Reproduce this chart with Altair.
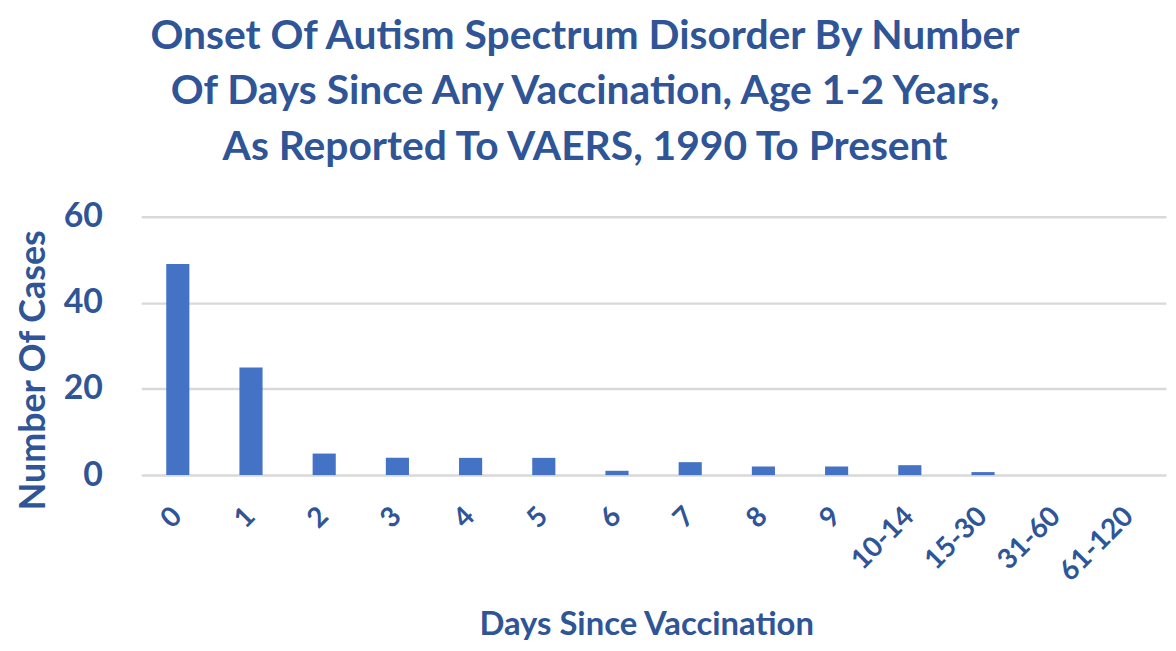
import altair as alt
import pandas as pd

days = ["0", "1", "2", "3", "4", "5", "6", "7", "8", "9", "10-14", "15-30", "31-60", "61-120"]
cases = [49, 25, 5, 4, 4, 4, 1, 3, 2, 2, 2.3, 0.7, 0, 0]

title_lines = [
    "Onset Of Autism Spectrum Disorder By Number",
    "Of Days Since Any Vaccination, Age 1-2 Years,",
    "As Reported To VAERS, 1990 To Present",
]

df = pd.DataFrame({"days": days, "cases": cases})

BLUE_TEXT = "#2F5597"
BAR = "#4472C4"
FONT = "Lato"

chart = alt.Chart(df).mark_bar(color=BAR).encode(
    x=alt.X(
        "days:N",
        sort=days,
        scale=alt.Scale(paddingInner=0.684, paddingOuter=0.342),
        axis=alt.Axis(
            title="Days Since Vaccination",
            labelAngle=-45,
            labelAlign="right",
            labelBaseline="middle",
            labelPadding=37,
            labelFontSize=28,
            labelFont=FONT,
            labelFontWeight="bold",
            labelColor=BLUE_TEXT,
            ticks=False,
            domain=False,
            titleFont=FONT,
            titleFontSize=33,
            titleFontWeight="bold",
            titleColor=BLUE_TEXT,
            titleX=508,
            titleY=160,
            titleAlign="center",
            titleBaseline="alphabetic",
        ),
    ),
    y=alt.Y(
        "cases:Q",
        scale=alt.Scale(domain=[0, 60]),
        axis=alt.Axis(
            title="Number Of Cases",
            values=[0, 20, 40, 60],
            labelPadding=39,
            labelFontSize=34,
            labelFont=FONT,
            labelFontWeight="bold",
            labelColor=BLUE_TEXT,
            ticks=False,
            domain=False,
            gridColor="#D9D9D9",
            gridWidth=2.5,
            gridOpacity=1,
            titleFont=FONT,
            titleFontSize=36,
            titleFontWeight="bold",
            titleColor=BLUE_TEXT,
            titleAngle=-90,
            titleX=-97,
            titleY=154,
            titleAlign="center",
            titleBaseline="alphabetic",
        ),
    ),
).properties(
    width=1031,
    height=260,
    title=alt.TitleParams(
        text=title_lines,
        font=FONT,
        fontSize=41,
        fontWeight="bold",
        color=BLUE_TEXT,
        lineHeight=56,
        anchor="middle",
        dx=-69,
        dy=10,
        baseline="bottom",
        offset=0,
    ),
    autosize=alt.AutoSizeParams(type="none"),
    padding={"left": 134, "top": 208, "right": 2, "bottom": 167},
).configure_view(stroke=None)

chart.save("out.html", embed_options={"renderer": "svg", "actions": False})
